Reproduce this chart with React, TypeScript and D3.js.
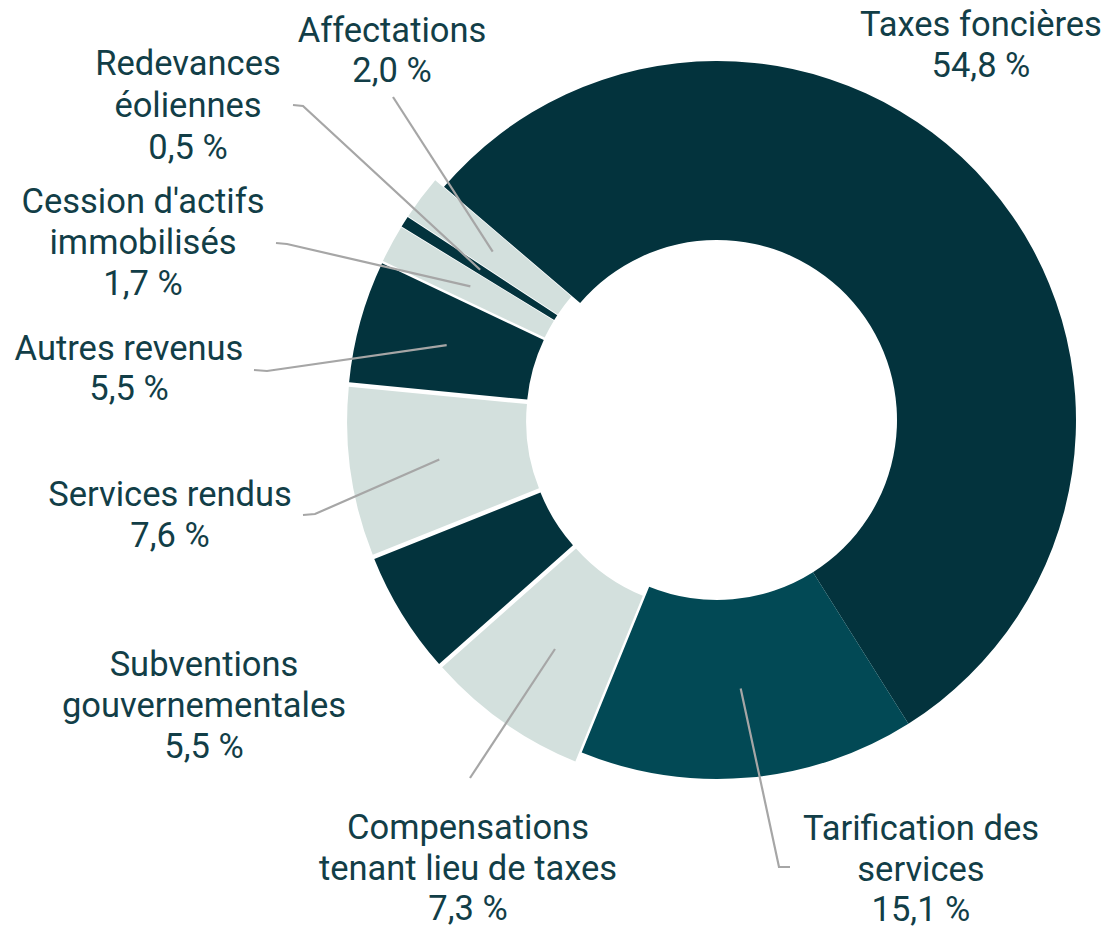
import React from "react";
import * as d3 from "d3";

const categories = [
  "Taxes foncières",
  "Tarification des services",
  "Compensations tenant lieu de taxes",
  "Subventions gouvernementales",
  "Services rendus",
  "Autres revenus",
  "Cession d'actifs immobilisés",
  "Redevances éoliennes",
  "Affectations",
];
const values = [54.8, 15.1, 7.3, 5.5, 7.6, 5.5, 1.7, 0.5, 2.0];
const valueLabels = ["54,8 %", "15,1 %", "7,3 %", "5,5 %", "7,6 %", "5,5 %", "1,7 %", "0,5 %", "2,0 %"];
const labelLines = [
  ["Taxes foncières"],
  ["Tarification des", "services"],
  ["Compensations", "tenant lieu de taxes"],
  ["Subventions", "gouvernementales"],
  ["Services rendus"],
  ["Autres revenus"],
  ["Cession d'actifs", "immobilisés"],
  ["Redevances", "éoliennes"],
  ["Affectations"],
];

// layout (positions / styles)
const W = 1103, H = 930;
const CX = 717, CY = 420;
const R_OUT = 359, R_IN = 180;
const EXPLODE = [0, 0, 11, 11, 11, 11, 11, 11, 11];
const DARK = "#03333d", TEAL = "#024955", LIGHT = "#d3e0dd";
const sliceColors = [DARK, TEAL, LIGHT, DARK, LIGHT, DARK, LIGHT, DARK, LIGHT];
const TEXT = "#123e47";
const LEADER = "#a6a6a6";
const FONT_SIZE = 34.5;
const labelPos = [
  { x: 981, y: 36, lh: 41, leader: null as null | number[][] },
  { x: 921, y: 840, lh: 40.5, leader: [[790, 867], [779, 867]] },
  { x: 468, y: 839, lh: 40.5, leader: [[470, 778]] },
  { x: 204, y: 676, lh: 41, leader: null },
  { x: 170, y: 506, lh: 41, leader: [[303, 515], [315, 514]] },
  { x: 129, y: 360, lh: 40, leader: [[254, 370], [267, 371]] },
  { x: 143, y: 213, lh: 41, leader: [[276, 243], [287, 244]] },
  { x: 188, y: 75, lh: 42, leader: [[293, 105], [303, 106]] },
  { x: 392, y: 42, lh: 40, leader: [[393, 97]] },
];

export default function App() {
  const start = (-49.5 * Math.PI) / 180;
  const pie = d3
    .pie<number>()
    .sort(null)
    .value((d) => d)
    .startAngle(start)
    .endAngle(start + 2 * Math.PI);
  const arcs = pie(values);
  const arc = d3.arc<d3.PieArcDatum<number>>().innerRadius(R_IN).outerRadius(R_OUT);
  const line = d3.line();

  return (
    <svg
      width={W}
      height={H}
      style={{ position: "absolute", left: 0, top: 0, background: "#fff" }}
      fontFamily="Roboto, 'Noto Sans', sans-serif"
    >
      <g transform={`translate(${CX},${CY})`}>
        {arcs.map((a, i) => {
          const mid = (a.startAngle + a.endAngle) / 2;
          const dx = Math.sin(mid) * EXPLODE[i];
          const dy = -Math.cos(mid) * EXPLODE[i];
          return (
            <path
              key={i}
              d={arc(a) || ""}
              transform={`translate(${dx},${dy})`}
              fill={sliceColors[i]}
            />
          );
        })}
      </g>
      {arcs.map((a, i) => {
        const lp = labelPos[i];
        if (!lp.leader) return null;
        const mid = (a.startAngle + a.endAngle) / 2;
        const [cx, cy] = arc.centroid(a);
        const ex = CX + cx + Math.sin(mid) * EXPLODE[i];
        const ey = CY + cy - Math.cos(mid) * EXPLODE[i];
        const pts = [...lp.leader.map((p) => [p[0], p[1]] as [number, number]), [ex, ey] as [number, number]];
        return <path key={"l" + i} d={line(pts) || ""} fill="none" stroke={LEADER} strokeWidth={2.2} />;
      })}
      {categories.map((c, i) => {
        const lp = labelPos[i];
        const lines = [...labelLines[i], valueLabels[i]];
        return (
          <text key={"t" + i} x={lp.x} y={lp.y} textAnchor="middle" fontSize={FONT_SIZE} fill={TEXT}>
            {lines.map((l, j) => (
              <tspan key={j} x={lp.x} y={lp.y + j * lp.lh}>
                {l}
              </tspan>
            ))}
          </text>
        );
      })}
    </svg>
  );
}
